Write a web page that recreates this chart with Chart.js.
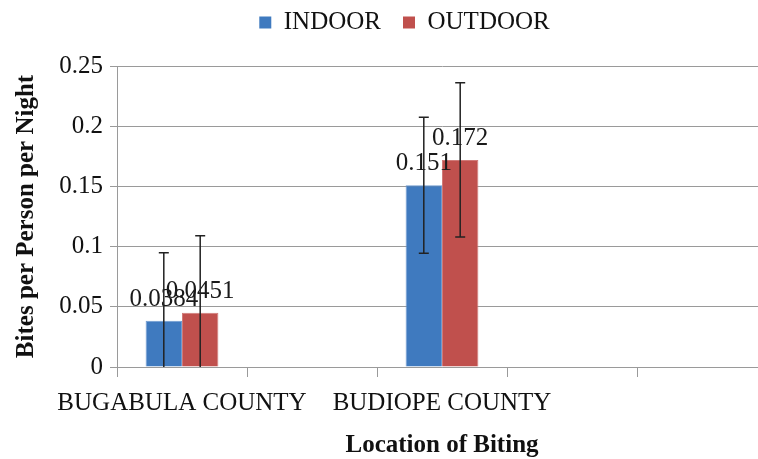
<!DOCTYPE html>
<html><head><meta charset="utf-8">
<script src="https://cdn.jsdelivr.net/npm/chart.js@4.4.0/dist/chart.umd.min.js"></script>
<style>
html,body{margin:0;padding:0;overflow:hidden;background:#fff;width:758px;height:459px}
#wrap{position:absolute;left:0;top:0;width:808px;height:459px}
</style>
</head><body><div id="wrap"><canvas id="c" width="808" height="459"></canvas></div>
<script>
const categories = ["BUGABULA COUNTY", "", "BUDIOPE COUNTY", "", ""];
const indoorValues = [0.0384, null, 0.151, null, null];
const outdoorValues = [0.0451, null, 0.172, null, null];
const indoorErrors = [0.0565, null, 0.0565, null, null];
const outdoorErrors = [0.064, null, 0.064, null, null];
const yTickLabels = ["0", "0.05", "0.1", "0.15", "0.2", "0.25"];
const seriesNames = ["INDOOR", "OUTDOOR"];
const seriesColors = ["#3F7ABF", "#C0504D"];
const seriesEdges = ["#6F9BD0", "#D07A78"];

const FONT = "'Liberation Serif', 'Times New Roman', serif";
const errorsBySeries = [indoorErrors, outdoorErrors];

const legendHeightPlugin = {
  id: 'legendHeight',
  afterInit(chart) {
    const l = chart.legend;
    if (!l) return;
    const orig = l.fit.bind(l);
    l.fit = function () { orig(); this.height = 66; };
  },
  afterLayout(chart) {
    const l = chart.legend;
    if (!l) return;
    l.top -= 12;
    l.bottom -= 12;
    l.left += 21;
    l.right += 21;
  }
};

const labelsAndErrors = {
  id: 'labelsAndErrors',
  afterDatasetsDraw(chart) {
    const ctx = chart.ctx;
    const y = chart.scales.y;
    const area = chart.chartArea;
    chart.data.datasets.forEach((ds, i) => {
      const meta = chart.getDatasetMeta(i);
      meta.data.forEach((bar, j) => {
        const v = ds.data[j];
        if (v === null || v === undefined) return;
        ctx.save();
        ctx.font = "25px " + FONT;
        ctx.fillStyle = "#1a1a1a";
        ctx.textAlign = "center";
        ctx.textBaseline = "alphabetic";
        ctx.fillText(String(v), bar.x, y.getPixelForValue(v) - 15);
        ctx.restore();
      });
    });
    chart.data.datasets.forEach((ds, i) => {
      const meta = chart.getDatasetMeta(i);
      const errs = errorsBySeries[i];
      meta.data.forEach((bar, j) => {
        const v = ds.data[j];
        const e = errs[j];
        if (v === null || v === undefined || e === null) return;
        const top = y.getPixelForValue(v + e);
        const bot = y.getPixelForValue(v - e);
        ctx.save();
        ctx.beginPath();
        ctx.rect(area.left, area.top - 1, area.right - area.left, area.bottom - area.top + 1);
        ctx.clip();
        ctx.strokeStyle = "#222";
        ctx.lineWidth = 1.5;
        ctx.beginPath();
        ctx.moveTo(bar.x, top); ctx.lineTo(bar.x, bot);
        ctx.moveTo(bar.x - 5, top); ctx.lineTo(bar.x + 5, top);
        ctx.moveTo(bar.x - 5, bot); ctx.lineTo(bar.x + 5, bot);
        ctx.stroke();
        ctx.restore();
      });
    });
  }
};

new Chart(document.getElementById('c'), {
  type: 'bar',
  data: {
    labels: categories,
    datasets: [
      { label: seriesNames[0], data: indoorValues, backgroundColor: seriesColors[0], borderColor: seriesEdges[0], borderWidth: 1 },
      { label: seriesNames[1], data: outdoorValues, backgroundColor: seriesColors[1], borderColor: seriesEdges[1], borderWidth: 1 }
    ]
  },
  options: {
    responsive: false,
    animation: false,
    devicePixelRatio: 1,
    categoryPercentage: 0.56,
    barPercentage: 1.0,
    layout: { padding: { left: 0, right: 41, top: 0, bottom: 0 } },
    plugins: {
      legend: {
        position: 'top',
        labels: {
          boxWidth: 12, boxHeight: 12, padding: 22,
          color: '#111',
          font: { family: FONT, size: 25 },
          generateLabels(chart) {
            return chart.data.datasets.map((ds, i) => ({
              text: ds.label, fillStyle: seriesColors[i], strokeStyle: seriesColors[i],
              lineWidth: 0, hidden: false, datasetIndex: i, fontColor: '#111'
            }));
          }
        }
      },
      tooltip: { enabled: false }
    },
    scales: {
      x: {
        afterFit(s) { s.height = 92; },
        grid: { drawOnChartArea: false, drawTicks: true, tickLength: 10, color: '#9a9a9a', offset: true },
        border: { color: '#9a9a9a', width: 1 },
        ticks: {
          autoSkip: false, maxRotation: 0, minRotation: 0, padding: 11,
          color: '#111', font: { family: FONT, size: 25 }
        },
        title: {
          display: true, text: 'Location of Biting', color: '#111',
          font: { family: FONT, size: 25, weight: 'bold', lineHeight: 1 },
          padding: { top: 0, bottom: 1 }
        }
      },
      y: {
        min: 0, max: 0.25,
        afterFit(s) { s.width = 117; },
        grid: { color: '#9a9a9a', tickLength: 7, lineWidth: 1 },
        border: { color: '#9a9a9a', width: 1 },
        ticks: {
          stepSize: 0.05, padding: 7, color: '#111',
          font: { family: FONT, size: 25 },
          callback: (val, idx) => yTickLabels[idx]
        },
        title: {
          display: true, text: 'Bites per Person per Night', color: '#111',
          font: { family: FONT, size: 25, weight: 'bold', lineHeight: 1.2 },
          padding: { top: 12, bottom: 0 }
        }
      }
    }
  },
  plugins: [legendHeightPlugin, labelsAndErrors]
});
</script>
</body></html>
